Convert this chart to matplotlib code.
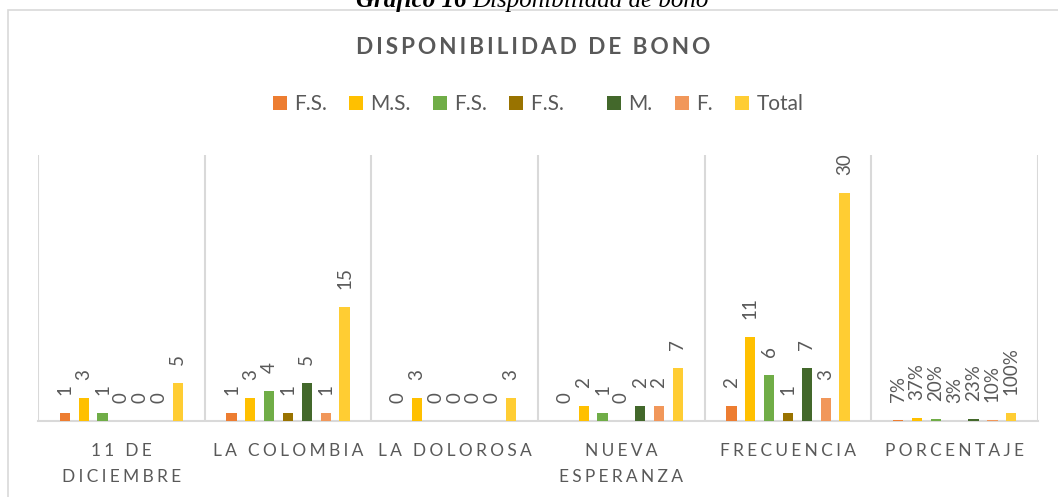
import matplotlib
matplotlib.use("Agg")
import matplotlib.pyplot as plt
from matplotlib.patches import Patch, Rectangle
import numpy as np

# data
categories = ["11 DE\nDICIEMBRE", "LA COLOMBIA", "LA DOLOROSA", "NUEVA\nESPERANZA", "FRECUENCIA", "PORCENTAJE"]
series_names = ["F.S.", "M.S.", "F.S.", "F.S.    ", "M.", "F.", "Total"]
fs_1 = [1, 1, 0, 0, 2, 0.07]
ms = [3, 3, 3, 2, 11, 0.37]
fs_2 = [1, 4, 0, 1, 6, 0.20]
fs_3 = [0, 1, 0, 0, 1, 0.03]
m = [0, 5, 0, 2, 7, 0.23]
f = [0, 1, 0, 2, 3, 0.10]
total = [5, 15, 3, 7, 30, 1.00]
colors = ["#ED7D31", "#FFC000", "#70AD47", "#997300", "#43682B", "#F1975A", "#FFCD33"]

all_series = [fs_1, ms, fs_2, fs_3, m, f, total]

plt.rcParams['font.family'] = ['Lato', 'DejaVu Sans']
grey = "#595959"
line_grey = "#D9D9D9"


def spaced(s, gap="\u2009\u200a"):
	# Excel style letter spacing
	return "\n".join(gap.join(list(line)) for line in s.split("\n"))


def label_text(v, cat_index):
	if cat_index == len(categories) - 1:
		return str(int(round(v * 100))) + "%"
	return str(int(v))


fig = plt.figure(figsize=(10.58, 4.97), dpi=100)
ax = fig.add_axes([38 / 1058, 1 - 421 / 497, 1000 / 1058, 266 / 497])

x = np.arange(len(categories))
step = 0.113
width = 0.062
for j in range(len(all_series)):
	pos = x + (j - 3) * step
	ax.bar(pos, all_series[j], width, color=colors[j], zorder=3)
	for i in range(len(categories)):
		ax.annotate(label_text(all_series[j][i], i), (pos[i], all_series[j][i]),
			xytext=(0, 13), textcoords="offset points", rotation=90,
			ha="center", va="bottom", fontsize=13.5, color=grey, annotation_clip=False)

ax.set_xlim(-0.5, len(categories) - 0.5)
ax.set_ylim(0, 35)
for b in np.arange(-0.5, len(categories), 1.0):
	ax.axvline(b, color=line_grey, lw=1.5, zorder=1)
for s in ["top", "left", "right"]:
	ax.spines[s].set_visible(False)
ax.spines["bottom"].set_color(line_grey)
ax.spines["bottom"].set_linewidth(1.5)
ax.set_yticks([])
ax.set_xticks(x)
ax.set_xticklabels([spaced(c) for c in categories], fontsize=12.5, color=grey, linespacing=1.75)
ax.tick_params(axis="x", length=0, pad=16)

fig.text(533 / 1058, 1 - 47 / 497, spaced("DISPONIBILIDAD DE BONO", "\u2009"), ha="center", va="center",
	fontsize=16.3, fontweight="bold", color=grey)

handles = [Patch(facecolor=c, edgecolor="none") for c in colors]
fig.legend(handles, series_names, loc="center", bbox_to_anchor=(538 / 1058, 1 - 104 / 497), ncol=7,
	frameon=False, fontsize=15, labelcolor=grey, handlelength=0.67, handleheight=0.67,
	handletextpad=0.34, columnspacing=1.08)

# outer chart border
fig.add_artist(Rectangle((8 / 1058, -0.05), 1.1, 1 - 10 / 497 + 0.05, transform=fig.transFigure,
	fill=False, edgecolor=line_grey, lw=1.2))

# caption of the document, cut at the top of the picture
fig.text(467 / 1058, 1 - 7 / 497, "Gráfico 16", ha="right", va="baseline", fontsize=18,
	family="Liberation Serif", style="italic", fontweight="bold", color="black")
fig.text(472 / 1058, 1 - 7 / 497, "Disponibilidad de bono", ha="left", va="baseline", fontsize=18,
	family="Liberation Serif", style="italic", color="black")

plt.savefig("out.png", dpi=100)
